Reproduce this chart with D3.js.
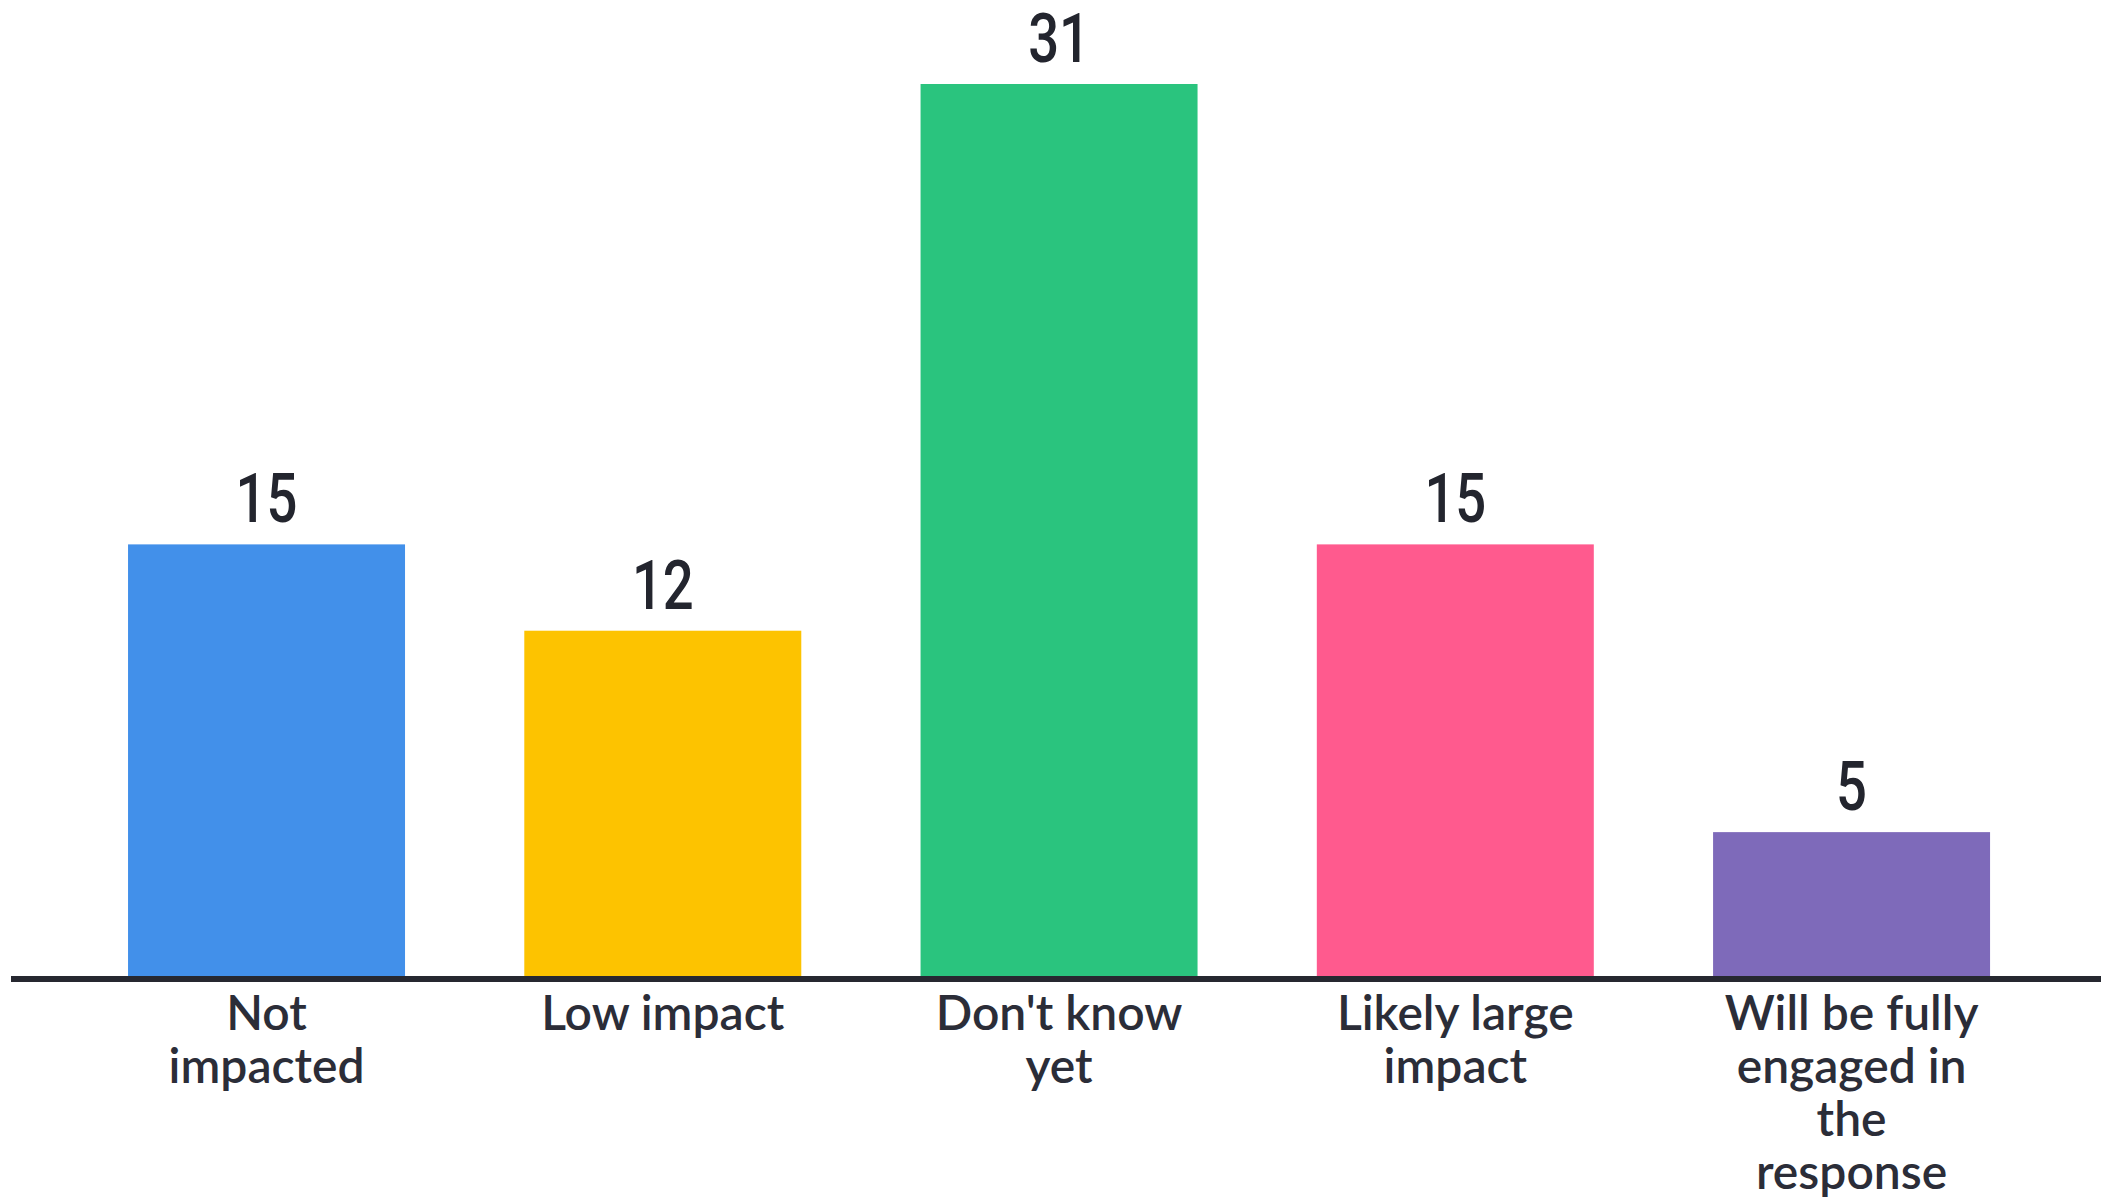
<!DOCTYPE html>
<html>
<head>
<meta charset="utf-8">
<script src="https://cdn.jsdelivr.net/npm/d3@7"></script>
<style>
  html, body { margin: 0; padding: 0; background: #ffffff; }
  svg { display: block; }
</style>
</head>
<body>
<svg id="chart" width="2101" height="1201"></svg>
<script>
// Survey responses: expected impact on the organisation
const categories = ["Not impacted", "Low impact", "Don't know yet", "Likely large impact", "Will be fully engaged in the response"];
const values = [15, 12, 31, 15, 5];
const tickLabels = [
  ["Not", "impacted"],
  ["Low impact"],
  ["Don't know", "yet"],
  ["Likely large", "impact"],
  ["Will be fully", "engaged in", "the", "response"]
];
const colors = ["#4290ea", "#fdc300", "#2ac47e", "#ff5a8e", "#7e6aba"];

const W = 2101, H = 1201;
const svg = d3.select("#chart");

const x = d3.scaleBand()
  .domain(categories)
  .range([68.6, 2049.5])
  .paddingInner(0.301)
  .paddingOuter(0.15);

const y = d3.scaleLinear()
  .domain([0, d3.max(values)])
  .range([976, 84]);

const data = categories.map((c, i) => ({ cat: c, value: values[i], color: colors[i], lines: tickLabels[i] }));

// bars
svg.append("g")
  .selectAll("rect")
  .data(data)
  .join("rect")
  .attr("x", d => x(d.cat))
  .attr("y", d => y(d.value))
  .attr("width", x.bandwidth())
  .attr("height", d => y(0) - y(d.value))
  .attr("fill", d => d.color);

// baseline axis
const axis = svg.append("g")
  .attr("transform", `translate(0,${y(0) + 3})`)
  .call(d3.axisBottom(x).tickSize(0).tickFormat(""));
axis.select(".domain").remove();
axis.append("line")
  .attr("x1", 11).attr("x2", W)
  .attr("y1", 0).attr("y2", 0)
  .attr("stroke", "#262830")
  .attr("stroke-width", 6);

// category labels, one tspan per line
axis.selectAll(".tick text").remove();
axis.selectAll(".tick").each(function (c, i) {
  const t = d3.select(this).append("text")
    .attr("text-anchor", "middle")
    .attr("fill", "#2b2d38")
    .style("font-family", "Lato, 'Open Sans', sans-serif")
    .style("font-weight", 600)
    .style("font-size", "48px");
  tickLabels[i].forEach((ln, k) => {
    t.append("tspan").attr("x", 0).attr("y", 51 + k * 53).text(ln);
  });
});

// value labels
svg.append("g")
  .selectAll("text")
  .data(data)
  .join("text")
  .attr("transform", d => `translate(${x(d.cat) + x.bandwidth() / 2},${y(d.value) - 22}) scale(0.8,1)`)
  .attr("text-anchor", "middle")
  .attr("fill", "#23252e")
  .style("font-family", "Roboto, sans-serif")
  .style("font-weight", 500)
  .style("font-size", "68px")
  .text(d => d.value);
</script>
</body>
</html>
